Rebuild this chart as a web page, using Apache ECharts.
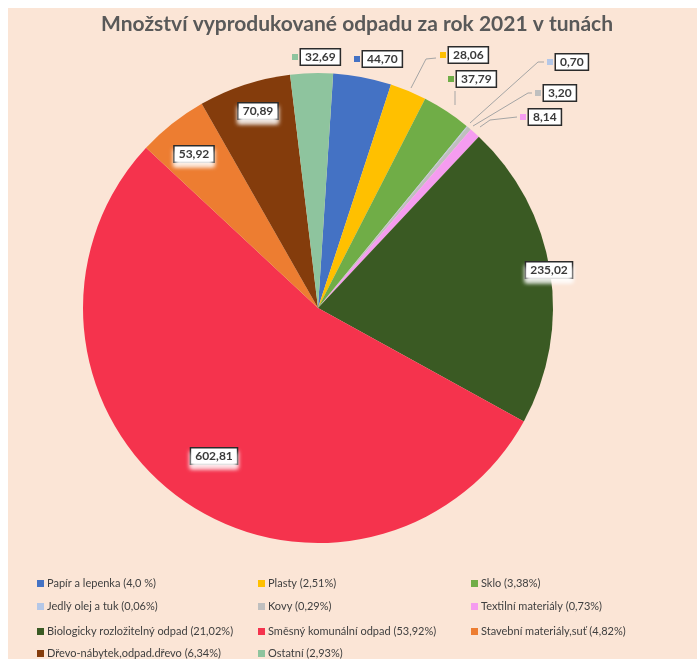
<!DOCTYPE html>
<html>
<head>
<meta charset="utf-8">
<script src="https://cdn.jsdelivr.net/npm/echarts@6/dist/echarts.min.js"></script>
<style>
html, body { margin: 0; padding: 0; background: #fff; }
#main { width: 697px; height: 659px; }
</style>
</head>
<body>
<div id="main"></div>
<script>
// data
var names = ['Papír a lepenka', 'Plasty', 'Sklo', 'Jedlý olej a tuk', 'Kovy', 'Textilní materiály',
    'Biologicky rozložitelný odpad', 'Směsný komunální odpad', 'Stavební materiály,suť',
    'Dřevo-nábytek,odpad.dřevo', 'Ostatní'];
var tuny = [44.70, 28.06, 37.79, 0.70, 3.20, 8.14, 235.02, 602.81, 53.92, 70.89, 32.69];
var podil = ['4,0 %', '2,51%', '3,38%', '0,06%', '0,29%', '0,73%', '21,02%', '53,92%', '4,82%', '6,34%', '2,93%'];

// styles
var colors = ['#4472C4', '#FFC000', '#70AD47', '#B4C7E7', '#BFBFBF', '#F59CF0',
    '#3A5A23', '#F5334D', '#ED7D31', '#843C0C', '#8EC49E'];
var inside = [false, false, false, false, false, false, true, true, true, true, false];
// label anchors: outside = left edge of marker, inside = box centre
var labelPos = [[354, 59], [440, 55], [448, 79], [547, 62], [535, 93], [520, 117],
    [549, 270], [214, 456], [194, 154], [258, 111], [292, 57]];
// leader lines (only some labels have them)
var leader = {
    1: [[411, 88], [426, 59], [436, 58]],
    2: [[455, 105], [455, 91]],
    3: [[470, 123], [538, 62], [544, 62]],
    4: [[473, 126], [528, 93], [532, 93]],
    5: [[480, 127], [490, 120], [517, 117]]
};

// legend grid: 3 columns, 4 rows
var legendCol = [0, 1, 2, 0, 1, 2, 0, 1, 2, 0, 1];
var legendRow = [0, 0, 0, 1, 1, 1, 2, 2, 2, 3, 3];
var colLeft = [32, 253, 466];
var rowTop = [573, 596, 621, 643];

var font = 'Lato, "Open Sans", sans-serif';

function fmt(v) {
    return v.toFixed(2).replace('.', ',');
}

var boxStyle = {
    fontFamily: font,
    fontSize: 12,
    fontWeight: 'bold',
    color: '#3a3a3a',
    backgroundColor: '#fff',
    borderColor: '#2b2b2b',
    borderWidth: 1.5,
    padding: [2, 4, 1, 4]
};

var pieData = [];
for (var i = 0; i < names.length; i++) {
    var vStyle = Object.assign({}, boxStyle);
    if (inside[i]) {
        vStyle.shadowColor = 'rgba(255,255,255,0.9)';
        vStyle.shadowBlur = 4;
        vStyle.shadowOffsetY = 4;
    }
    pieData.push({
        name: names[i],
        value: tuny[i],
        itemStyle: { color: colors[i] },
        label: {
            position: inside[i] ? 'inside' : 'outside',
            formatter: inside[i] ? '{v|' + fmt(tuny[i]) + '}' : '{m|}{g|}{v|' + fmt(tuny[i]) + '}',
            rich: {
                m: { width: 6, height: 6, backgroundColor: colors[i] },
                g: { width: 3 },
                v: vStyle
            }
        },
        labelLine: { show: !!leader[i] }
    });
}

var legends = [];
for (var k = 0; k < names.length; k++) {
    legends.push({
        left: colLeft[legendCol[k]],
        top: rowTop[legendRow[k]],
        itemWidth: 7,
        itemHeight: 7,
        icon: 'rect',
        selectedMode: false,
        data: [names[k]],
        formatter: function (name) {
            return name + ' (' + podil[names.indexOf(name)] + ')';
        },
        textStyle: { fontFamily: font, fontSize: 11, color: '#404040', padding: [0, 0, 0, -2] }
    });
}

var myChart = echarts.init(document.getElementById('main'));
var option = {
    backgroundColor: '#fff',
    animation: false,
    title: {
        text: 'Množství vyprodukované odpadu za rok 2021 v tunách',
        left: 96,
        top: 9,
        textStyle: { fontFamily: font, fontSize: 21, fontWeight: 'bold', color: '#595959' }
    },
    graphic: [{
        type: 'rect',
        z: -10,
        shape: { x: 8, y: 8, width: 689, height: 651 },
        style: { fill: '#FBE5D6' }
    }],
    legend: legends,
    series: [{
        type: 'pie',
        center: [318, 308],
        radius: 235,
        startAngle: 86.3,
        silent: true,
        avoidLabelOverlap: false,
        label: { show: true },
        labelLine: { lineStyle: { color: '#A5A5A5', width: 1 } },
        labelLayout: function (params) {
            var k = params.dataIndex;
            var p = labelPos[k];
            var res = {
                x: p[0],
                y: p[1],
                align: inside[k] ? 'center' : 'left',
                verticalAlign: 'middle'
            };
            if (leader[k]) res.labelLinePoints = leader[k];
            return res;
        },
        data: pieData
    }]
};
myChart.setOption(option);
</script>
</body>
</html>
